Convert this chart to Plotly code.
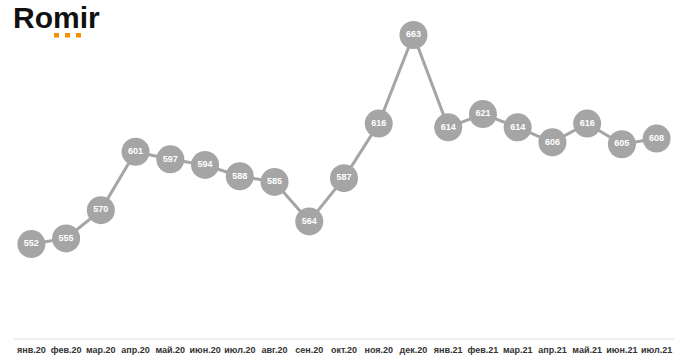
import plotly.graph_objects as go

months = ["янв.20", "фев.20", "мар.20", "апр.20", "май.20", "июн.20", "июл.20",
          "авг.20", "сен.20", "окт.20", "ноя.20", "дек.20", "янв.21", "фев.21",
          "мар.21", "апр.21", "май.21", "июн.21", "июл.21"]
values = [552, 555, 570, 601, 597, 594, 588, 585, 564, 587, 616, 663, 614, 621,
          614, 606, 616, 605, 608]

W, H = 680, 361
L, R, T, B = 14, 6, 0, 23
pw, ph = W - L - R, H - T - B

def px_x(px):
    return (px - L) / pw

def px_y(py):
    return 1 - (py - T) / ph

grey = "#a5a5a5"
fig = go.Figure()
fig.add_trace(go.Scatter(
    x=months, y=values, mode="lines+markers+text",
    line=dict(color=grey, width=3),
    marker=dict(size=28, color=grey, line=dict(width=0)),
    text=[str(v) for v in values], textposition="middle center",
    textfont=dict(family="Liberation Sans", size=9, color="white", weight="bold"),
    cliponaxis=False, hoverinfo="skip",
))

shapes = []
for x0 in (54, 65, 76):
    shapes.append(dict(type="rect", xref="paper", yref="paper",
                       x0=px_x(x0), x1=px_x(x0 + 5), y0=px_y(37.5), y1=px_y(33),
                       fillcolor="#f39200", line=dict(width=0)))

fig.update_layout(
    width=W, height=H, margin=dict(l=L, r=R, t=T, b=B),
    paper_bgcolor="white", plot_bgcolor="white", showlegend=False,
    shapes=shapes,
    annotations=[dict(text="<b>Romir</b>", xref="paper", yref="paper",
                      x=px_x(12), y=px_y(0), xanchor="left", yanchor="top",
                      showarrow=False, borderpad=0,
                      font=dict(family="Liberation Sans", size=30, color="#111111"))],
    xaxis=dict(type="category", range=[-0.5, len(months) - 0.5],
               showgrid=False, zeroline=False, showline=True,
               linecolor="#eeeeee", linewidth=2,
               ticks="outside", ticklen=2, tickcolor="rgba(0,0,0,0)",
               tickfont=dict(family="Liberation Sans", size=9, color="#333333", weight="bold")),
    yaxis=dict(range=[502.1, 681.6], visible=False, showgrid=False, zeroline=False),
)
fig.write_html("out.html")
